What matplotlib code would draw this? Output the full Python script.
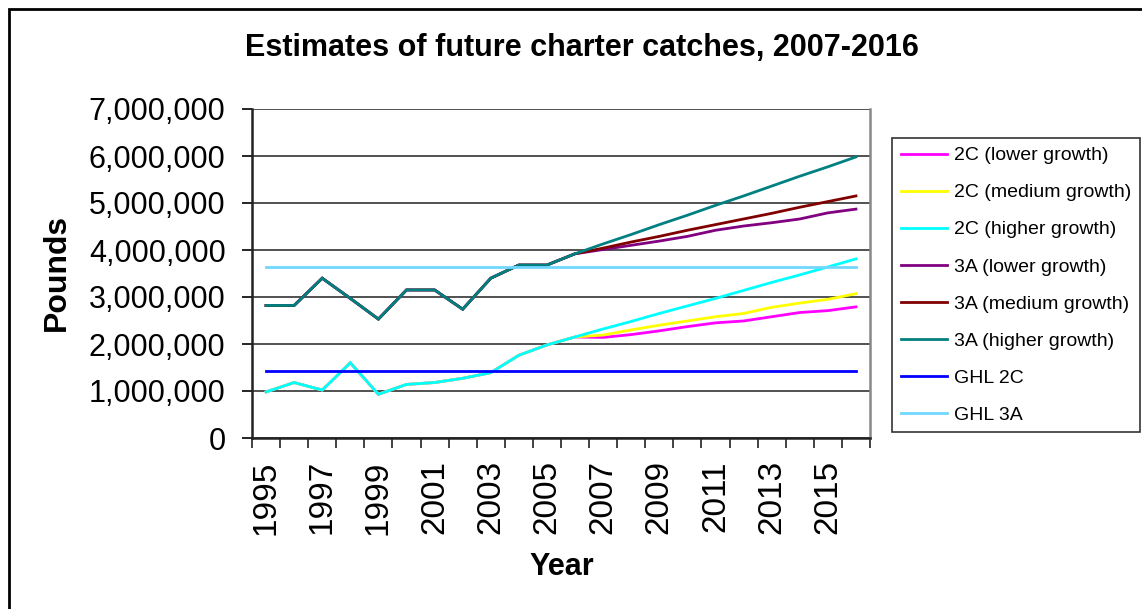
import matplotlib
matplotlib.use('Agg')
import matplotlib.pyplot as plt
from matplotlib.patches import Rectangle
from matplotlib.ticker import StrMethodFormatter, FixedLocator
import numpy as np

plt.rcParams['font.family'] = ['Liberation Sans', 'DejaVu Sans']

# ============================================================
# DATA (pounds)
# ============================================================
years = list(range(1995, 2017))
tick_years = list(range(1995, 2016, 2))

hist_2c = [980000, 1180000, 1020000, 1600000, 930000, 1140000,
           1180000, 1270000, 1390000, 1760000, 1980000, 2150000]
proj_2c_low = [2140000, 2200000, 2280000, 2370000, 2450000,
               2490000, 2580000, 2670000, 2710000, 2790000]
proj_2c_med = [2190000, 2300000, 2400000, 2490000, 2580000,
               2650000, 2780000, 2870000, 2950000, 3070000]
proj_2c_high = [2320000, 2480000, 2650000, 2810000, 2970000,
                3140000, 3310000, 3470000, 3640000, 3810000]

hist_3a = [2820000, 2820000, 3400000, 2970000, 2530000, 3150000,
           3150000, 2740000, 3400000, 3680000, 3680000, 3920000]
proj_3a_low = [4010000, 4100000, 4190000, 4290000, 4420000,
               4510000, 4580000, 4660000, 4790000, 4870000]
proj_3a_med = [4040000, 4170000, 4290000, 4420000, 4540000,
               4660000, 4780000, 4910000, 5030000, 5150000]
proj_3a_high = [4130000, 4330000, 4540000, 4740000, 4950000,
                5150000, 5360000, 5570000, 5770000, 5980000]

ghl_2c = 1430000
ghl_3a = 3640000

series = [
    ('2C (lower growth)', hist_2c + proj_2c_low, '#FF00FF'),
    ('2C (medium growth)', hist_2c + proj_2c_med, '#FFFF00'),
    ('2C (higher growth)', hist_2c + proj_2c_high, '#00FFFF'),
    ('3A (lower growth)', hist_3a + proj_3a_low, '#800080'),
    ('3A (medium growth)', hist_3a + proj_3a_med, '#800000'),
    ('3A (higher growth)', hist_3a + proj_3a_high, '#008080'),
    ('GHL 2C', [ghl_2c] * len(years), '#0000FF'),
    ('GHL 3A', [ghl_3a] * len(years), '#70D8FF'),
]

# ============================================================
# FIGURE
# ============================================================
W, H = 1142, 609
fig = plt.figure(figsize=(W / 100, H / 100), dpi=100)
ax = fig.add_axes([252 / W, 1 - 438 / H, (870 - 252) / W, (438 - 109) / H])

x = np.arange(len(years))
for label, vals, color in series:
    ax.plot(x, vals, color=color, lw=2, label=label, solid_joinstyle='miter')

ax.set_xlim(-0.5, len(years) - 0.5)
ax.set_ylim(0, 7000000)
ax.set_yticks(np.arange(0, 7000001, 1000000))
ax.yaxis.set_major_formatter(StrMethodFormatter('{x:,.0f}'))
ax.grid(axis='y', color='#333333', lw=1.2)
ax.set_axisbelow(True)

ax.set_xticks([years.index(y) for y in tick_years])
ax.set_xticklabels([str(y) for y in tick_years], rotation=90)
ax.xaxis.set_minor_locator(FixedLocator(np.arange(-0.5, len(years), 1.0)))
ax.tick_params(axis='x', which='major', length=0, pad=16, labelsize=24)
ax.tick_params(axis='x', which='minor', length=7, width=1.2, color='#222222')
ax.tick_params(axis='y', which='major', length=7, width=1.2, pad=12, labelsize=22)

for s in ['left', 'bottom']:
    ax.spines[s].set_color('#222222')
    ax.spines[s].set_linewidth(1.8)
ax.spines['right'].set_color('#888888')
ax.spines['right'].set_linewidth(1.8)
ax.spines['top'].set_visible(False)

fig.text(582 / W, 1 - 48 / H, 'Estimates of future charter catches, 2007-2016',
         ha='center', va='center', fontsize=22, fontweight='bold')
fig.text(57 / W, 1 - 272 / H, 'Pounds', ha='center', va='center',
         rotation=90, fontsize=23, fontweight='bold')
fig.text(562 / W, 1 - 567 / H, 'Year', ha='center', va='center',
         fontsize=22, fontweight='bold')

leg = fig.legend(loc='upper left', bbox_to_anchor=(892 / W, 1 - 138 / H),
                 fontsize=14, frameon=True, fancybox=False, edgecolor='black',
                 handlelength=2.4, handletextpad=0.35, borderpad=0.45,
                 labelspacing=1.0, borderaxespad=0)
leg.get_frame().set_linewidth(1.2)
for line in leg.get_lines():
    line.set_linewidth(2)

# outer chart border
fig.patches.append(Rectangle((9 / W, -0.05), 1.1, 1 - 9 / H + 0.05,
                             transform=fig.transFigure, fill=False,
                             edgecolor='black', lw=2))

plt.savefig('out.png', dpi=100)
plt.close()
